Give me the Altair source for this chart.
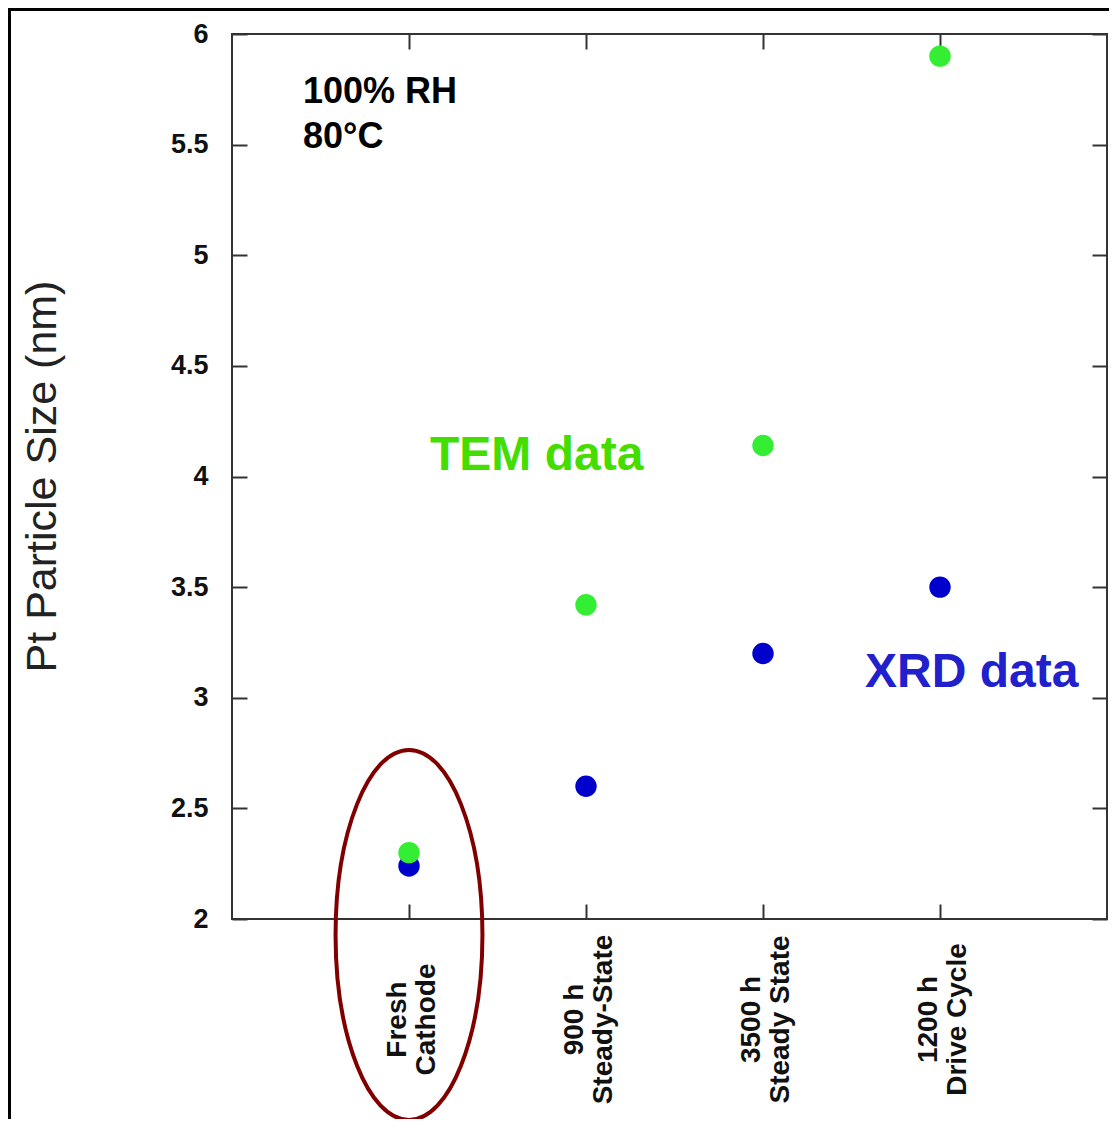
import altair as alt
import pandas as pd

# ---- data ----
categories = ["Fresh\nCathode", "900 h\nSteady-State", "3500 h\nSteady State", "1200 h\nDrive Cycle"]
tem_values = [2.30, 3.42, 4.14, 5.90]
xrd_values = [2.24, 2.60, 3.20, 3.50]
series_names = ["XRD data", "TEM data"]
series_colors = ["#0000cc", "#33ee33"]
y_ticks = [2, 2.5, 3, 3.5, 4, 4.5, 5, 5.5, 6]

rows = []
for c, v in zip(categories, xrd_values):
    rows.append({"cat": c, "size": v, "series": "XRD data", "ord": 0})
for c, v in zip(categories, tem_values):
    rows.append({"cat": c, "size": v, "series": "TEM data", "ord": 1})
df = pd.DataFrame(rows)

# annotations (anchored in data coordinates)
cond_df = pd.DataFrame({"cat": [categories[0], categories[0]], "size": [5.688, 5.485], "text": ["100% RH", "80°C"]})
tem_df = pd.DataFrame({"cat": [categories[0]], "size": [4.029], "text": ["TEM data"]})
xrd_df = pd.DataFrame({"cat": [categories[3]], "size": [3.049], "text": ["XRD data"]})
ellipse_df = pd.DataFrame({"cat": [categories[0]], "size": [1.928]})
frame_df = pd.DataFrame({"k": [0]})

W, H = 875, 885
FONT = "Liberation Sans"

xscale = alt.Scale(type="point", domain=categories, range=[177, 708], padding=0)
yscale = alt.Scale(domain=[2, 6], nice=False, zero=False)

x_main = alt.X(
    "cat:N", sort=categories, scale=xscale,
    axis=alt.Axis(
        orient="bottom", offset=-15, tickSize=15, domain=False, grid=False,
        tickColor="#333", tickWidth=2,
        labelExpr="split(datum.value, '\\n')", labelAngle=270,
        labelAlign="center", labelBaseline="middle", labelPadding=100, labelOffset=-12,
        labelFont=FONT, labelFontSize=28, labelFontWeight="bold", labelLineHeight=29,
        labelColor="#111", labelOverlap=False, title=None,
    ),
)
y_main = alt.Y(
    "size:Q", scale=yscale,
    axis=alt.Axis(
        orient="left", offset=-15, tickSize=15, domain=False, grid=False,
        tickColor="#333", tickWidth=2, values=y_ticks, format="~g",
        labelPadding=24, labelFont=FONT, labelFontSize=27, labelFontWeight="bold",
        labelColor="#111", labelFlush=False, labelOverlap=False,
        title="Pt Particle Size (nm)", titleFont=FONT, titleFontSize=43,
        titleFontWeight="normal", titleColor="#222", titleAngle=270,
        titleX=-192, titleY=442, titleAlign="center", titleBaseline="alphabetic",
    ),
)

points = alt.Chart(df).mark_circle(size=460, opacity=1).encode(
    x=x_main,
    y=y_main,
    color=alt.Color("series:N", scale=alt.Scale(domain=series_names, range=series_colors), legend=None),
    order=alt.Order("ord:Q"),
)

ellipse_path = ("M0,-1 C0.2193,-1 0.397,-0.5523 0.397,0 C0.397,0.5523 0.2193,1 0,1 "
                "C-0.2193,1 -0.397,0.5523 -0.397,0 C-0.397,-0.5523 -0.2193,-1 0,-1 Z")
ellipse = alt.Chart(ellipse_df).mark_point(
    shape=ellipse_path, size=136900, filled=False, color="#800000", strokeWidth=4, opacity=1
).encode(
    x=alt.X("cat:N", sort=categories, scale=xscale,
            axis=alt.Axis(orient="top", offset=-15, tickSize=15, domain=False, grid=False,
                          labels=False, tickColor="#333", tickWidth=2, title=None)),
    y=alt.Y("size:Q", scale=yscale,
            axis=alt.Axis(orient="right", offset=-15, tickSize=15, domain=False, grid=False,
                          labels=False, values=y_ticks, tickColor="#333", tickWidth=2, title=None)),
)

def text_layer(data, dx, color, fsize):
    return alt.Chart(data).mark_text(
        dx=dx, align="left", baseline="alphabetic", font=FONT, fontSize=fsize,
        fontWeight="bold", color=color
    ).encode(
        x=alt.X("cat:N", sort=categories, scale=xscale, axis=None),
        y=alt.Y("size:Q", scale=yscale, axis=None),
        text="text:N",
    )

cond_text = text_layer(cond_df, -106, "#000000", 36)
tem_text = text_layer(tem_df, 21, "#44dd00", 48)
xrd_text = text_layer(xrd_df, -75, "#2020cc", 48)

frame = alt.Chart(frame_df).mark_rect(fillOpacity=0, stroke="#000000", strokeWidth=3).encode(
    x=alt.value(-222.5), x2=alt.value(W + 200), y=alt.value(-24.5), y2=alt.value(H + 400)
)

chart = alt.layer(frame, ellipse, points, cond_text, tem_text, xrd_text).resolve_axis(
    x="independent", y="independent"
).properties(
    width=W, height=H,
    padding={"left": 224, "top": 26, "right": 2, "bottom": 200},
    autosize=alt.AutoSizeParams(type="none"),
    background="white",
).configure_view(stroke="#333333", strokeWidth=2)

chart.save("out.html", embed_options={"renderer": "svg", "actions": False})
